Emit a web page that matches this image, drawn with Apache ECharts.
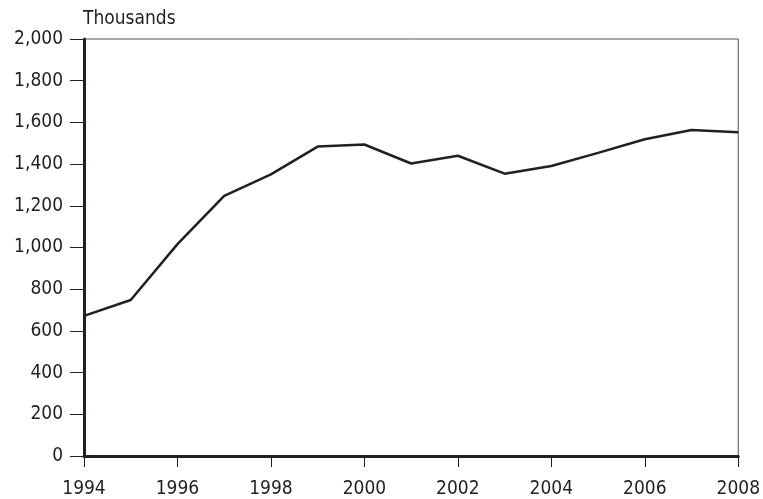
<!DOCTYPE html>
<html>
<head>
<meta charset="utf-8">
<script src="https://cdn.jsdelivr.net/npm/echarts@6/dist/echarts.min.js"></script>
<style>html,body{margin:0;padding:0;background:#fff}#c{width:763px;height:499px}</style>
</head>
<body>
<div id="c"></div>
<script>
var years = [1994,1995,1996,1997,1998,1999,2000,2001,2002,2003,2004,2005,2006,2007,2008];
var values = [672,748,1016,1248,1351,1484,1494,1403,1440,1354,1391,1454,1519,1564,1553];
var unitLabel = "Thousands";

var FONT = "'Liberation Sans Narrow','DejaVu Sans Condensed',sans-serif";
var chart = echarts.init(document.getElementById('c'));
chart.setOption({
  animation: false,
  backgroundColor: '#fff',
  grid: {left: 84, right: 23, top: 39, bottom: 41, show: true, borderColor: '#555', borderWidth: 1, containLabel: false},
  graphic: [{type: 'text', left: 83, top: 10, style: {text: unitLabel, font: '19px ' + FONT, fill: '#231f20'}}],
  xAxis: {
    type: 'value', min: 1994, max: 2008, interval: 2,
    axisLine: {show: true, lineStyle: {color: '#231f20', width: 3}},
    axisTick: {show: true, length: 11, lineStyle: {color: '#231f20', width: 1}},
    axisLabel: {color: '#231f20', fontFamily: FONT, fontSize: 19, margin: 24, formatter: function(v){return String(v);}},
    splitLine: {show: false}
  },
  yAxis: {
    type: 'value', min: 0, max: 2000, interval: 200,
    axisLine: {show: true, lineStyle: {color: '#231f20', width: 3}},
    axisTick: {show: true, length: 14, lineStyle: {color: '#231f20', width: 1}},
    axisLabel: {color: '#231f20', fontFamily: FONT, fontSize: 19, margin: 21,
      formatter: function(v){return v.toLocaleString('en-US');}},
    splitLine: {show: false}
  },
  series: [{
    type: 'line',
    data: years.map(function(y, i){return [y, values[i]];}),
    showSymbol: false,
    lineStyle: {color: '#231f20', width: 2.5},
    z: 1
  }]
});
</script>
</body>
</html>
